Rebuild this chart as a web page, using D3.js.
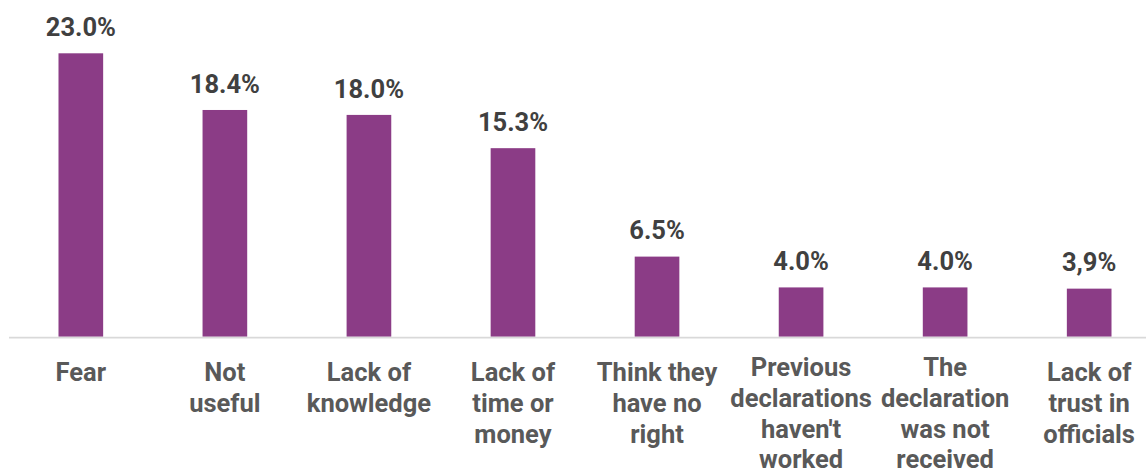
<!DOCTYPE html>
<html>
<head>
<meta charset="utf-8">
<script src="https://cdn.jsdelivr.net/npm/d3@7/dist/d3.min.js"></script>
<style>
  html, body { margin: 0; padding: 0; background: #ffffff; }
  svg { display: block; }
</style>
</head>
<body>
<svg id="chart" width="1146" height="472"></svg>
<script>
const categories = [
  ["Fear"],
  ["Not", "useful"],
  ["Lack of", "knowledge"],
  ["Lack of", "time or", "money"],
  ["Think they", "have no", "right"],
  ["Previous", "declarations", "haven't", "worked"],
  ["The", "declaration", "was not", "received"],
  ["Lack of", "trust in", "officials"]
];
const values = [23.0, 18.4, 18.0, 15.3, 6.5, 4.0, 4.0, 3.9];
const valueLabels = ["23.0%", "18.4%", "18.0%", "15.3%", "6.5%", "4.0%", "4.0%", "3,9%"];

const W = 1146, H = 472;
const baseY = 336.7;
const svg = d3.select("#chart");

const x = d3.scaleBand()
  .domain(d3.range(values.length))
  .range([8.8, 8.8 + 144.05 * values.length])
  .paddingInner(0.69)
  .paddingOuter(0.345);

const y = d3.scaleLinear()
  .domain([0, 23])
  .range([baseY, 53.3]);

// bars
svg.append("g").selectAll("rect")
  .data(values)
  .join("rect")
  .attr("x", (d, i) => x(i))
  .attr("width", x.bandwidth())
  .attr("y", d => y(d))
  .attr("height", d => baseY - y(d))
  .attr("fill", "#8b3c86");

// axis line
svg.append("line")
  .attr("x1", 9).attr("x2", W)
  .attr("y1", baseY + 0.9).attr("y2", baseY + 0.9)
  .attr("stroke", "#d9d9d9")
  .attr("stroke-width", 1.8);

// value labels
svg.append("g").selectAll("text")
  .data(values)
  .join("text")
  .attr("x", (d, i) => x(i) + x.bandwidth() / 2)
  .attr("y", d => y(d) - 17.3)
  .attr("text-anchor", "middle")
  .attr("font-family", "Roboto, sans-serif")
  .attr("font-weight", "bold")
  .attr("font-size", "25.5px")
  .attr("fill", "#404040")
  .text((d, i) => valueLabels[i]);

// category labels
const catG = svg.append("g");
categories.forEach((lines, i) => {
  const firstBase = lines.length >= 4 ? 376 : 381;
  const t = catG.append("text")
    .attr("text-anchor", "middle")
    .attr("font-family", "Roboto, sans-serif")
    .attr("font-weight", "bold")
    .attr("font-size", "25.5px")
    .attr("fill", "#595959");
  lines.forEach((ln, j) => {
    t.append("tspan")
      .attr("x", x(i) + x.bandwidth() / 2)
      .attr("y", firstBase + j * 30.8)
      .text(ln);
  });
});
</script>
</body>
</html>
